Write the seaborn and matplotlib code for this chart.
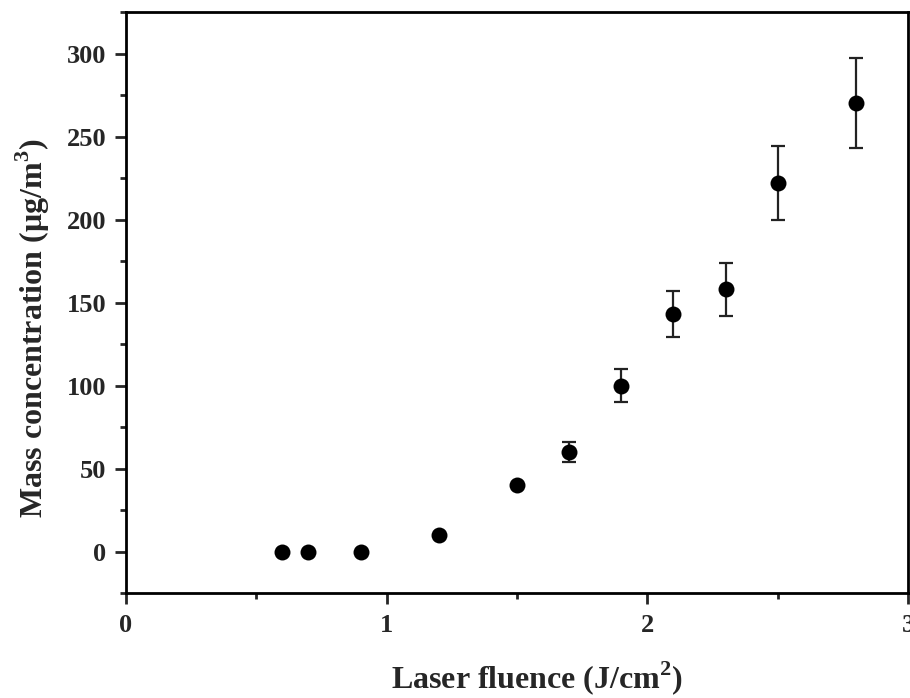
import numpy as np
import pandas as pd
import matplotlib
matplotlib.use('Agg')
import matplotlib.pyplot as plt
from matplotlib.ticker import MultipleLocator
import seaborn as sns

# data
fluence = [0.6, 0.7, 0.9, 1.2, 1.5, 1.7, 1.9, 2.1, 2.3, 2.5, 2.8]
mass_conc = [0, 0, 0, 10, 40, 60, 100, 143, 158, 222, 270]
err = [0, 0, 0, 0, 0, 6, 10, 14, 16, 22, 27]

df = pd.DataFrame({'fluence': fluence, 'mass': mass_conc, 'err': err})

sns.set_style('ticks')
plt.rcParams['font.family'] = ['Liberation Serif', 'DejaVu Serif']
plt.rcParams['font.weight'] = 'bold'
plt.rcParams['mathtext.fontset'] = 'custom'
plt.rcParams['mathtext.rm'] = 'Liberation Serif:bold'
plt.rcParams['mathtext.bf'] = 'Liberation Serif:bold'

fig = plt.figure(figsize=(9.1, 6.98), dpi=100)
ax = fig.add_axes([0.1385, 0.1504, 0.8593, 0.8324])

# error bars first, dots on top
ebar = df[df['err'] > 0]
ax.errorbar(ebar['fluence'], ebar['mass'], yerr=ebar['err'], fmt='none',
            ecolor='#222222', elinewidth=1.6, capsize=4.7, capthick=1.6, zorder=2)
sns.scatterplot(data=df, x='fluence', y='mass', ax=ax, color='black',
                s=132, edgecolor='black', linewidth=0, zorder=3)

ax.set_xlim(0, 3)
ax.set_ylim(-25, 325)
ax.xaxis.set_major_locator(MultipleLocator(1))
ax.xaxis.set_minor_locator(MultipleLocator(0.5))
ax.yaxis.set_major_locator(MultipleLocator(50))
ax.yaxis.set_minor_locator(MultipleLocator(25))

for s in ax.spines.values():
    s.set_linewidth(2)
    s.set_color('black')
ax.tick_params(which='major', direction='out', length=8, width=2, labelsize=19)
ax.tick_params(axis='x', which='major', pad=7)
ax.tick_params(axis='y', which='major', pad=6)
ax.tick_params(which='minor', direction='out', length=4.5, width=2)

ax.set_xlabel('Laser fluence (J/cm$^2$)', fontsize=23, fontweight='bold')
ax.set_ylabel('Mass concentration (\u03bcg/m$^3$)', fontsize=23, fontweight='bold')
ax.xaxis.set_label_coords(0.526, -0.113)
ax.yaxis.set_label_coords(-0.095, 0.455)

fig.savefig('out.png', dpi=100)
